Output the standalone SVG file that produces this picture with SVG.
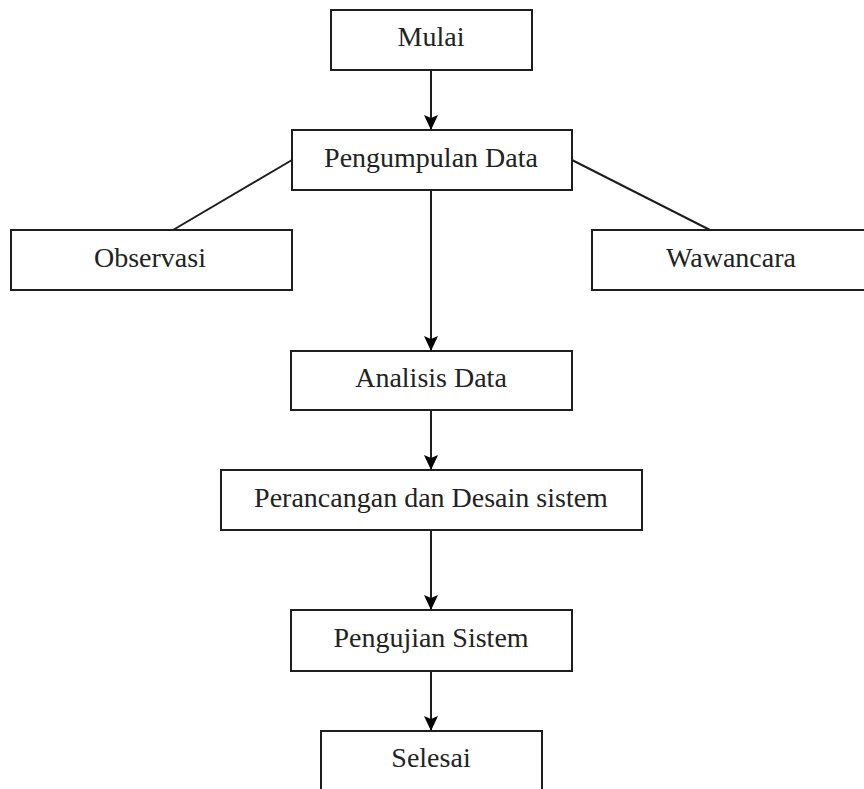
<svg xmlns="http://www.w3.org/2000/svg" width="864" height="789" viewBox="0 0 864 789">
<style>
.box{fill:#fff;stroke:#1e1e1e;stroke-width:2}
.lbl{font-family:"Liberation Serif","Times New Roman",serif;font-size:28px;fill:#222;text-anchor:middle}
.con{stroke:#1e1e1e;stroke-width:2;fill:none}
</style>
<defs>
<marker id="ah" markerUnits="userSpaceOnUse" markerWidth="16" markerHeight="14" refX="15" refY="7" orient="auto">
<path d="M0,0 L15,7 L0,14 L3,7 z" fill="#000"/>
</marker>
</defs>
<rect width="864" height="789" fill="#fff"/>
<g id="connectors">
<line class="con" x1="431" y1="70" x2="431" y2="130" marker-end="url(#ah)"/>
<line class="con" x1="431" y1="190" x2="431" y2="351" marker-end="url(#ah)"/>
<line class="con" x1="431" y1="410" x2="431" y2="470" marker-end="url(#ah)"/>
<line class="con" x1="431" y1="530" x2="431" y2="610" marker-end="url(#ah)"/>
<line class="con" x1="431" y1="671" x2="431" y2="731" marker-end="url(#ah)"/>
<line class="con" x1="292" y1="160" x2="173" y2="230"/>
<line class="con" x1="572" y1="160" x2="710" y2="230"/>
</g>
<g id="mulai">
<rect class="box" x="331" y="10" width="201" height="60"/>
<text class="lbl" x="431" y="46">Mulai</text>
</g>
<g id="pengumpulan">
<rect class="box" x="292" y="130" width="280" height="60"/>
<text class="lbl" x="431" y="166.5">Pengumpulan Data</text>
</g>
<g id="observasi">
<rect class="box" x="11" y="230" width="281" height="60"/>
<text class="lbl" x="150" y="266.5">Observasi</text>
</g>
<g id="wawancara">
<rect class="box" x="592" y="230" width="280" height="60"/>
<text class="lbl" x="731" y="266.5">Wawancara</text>
</g>
<g id="analisis">
<rect class="box" x="291" y="351" width="281" height="59"/>
<text class="lbl" x="431" y="387">Analisis Data</text>
</g>
<g id="perancangan">
<rect class="box" x="221" y="470" width="421" height="60"/>
<text class="lbl" x="431" y="506.5">Perancangan dan Desain sistem</text>
</g>
<g id="pengujian">
<rect class="box" x="291" y="610" width="281" height="61"/>
<text class="lbl" x="431" y="647">Pengujian Sistem</text>
</g>
<g id="selesai">
<rect class="box" x="321" y="731" width="221" height="70"/>
<text class="lbl" x="431" y="767">Selesai</text>
</g>
</svg>
